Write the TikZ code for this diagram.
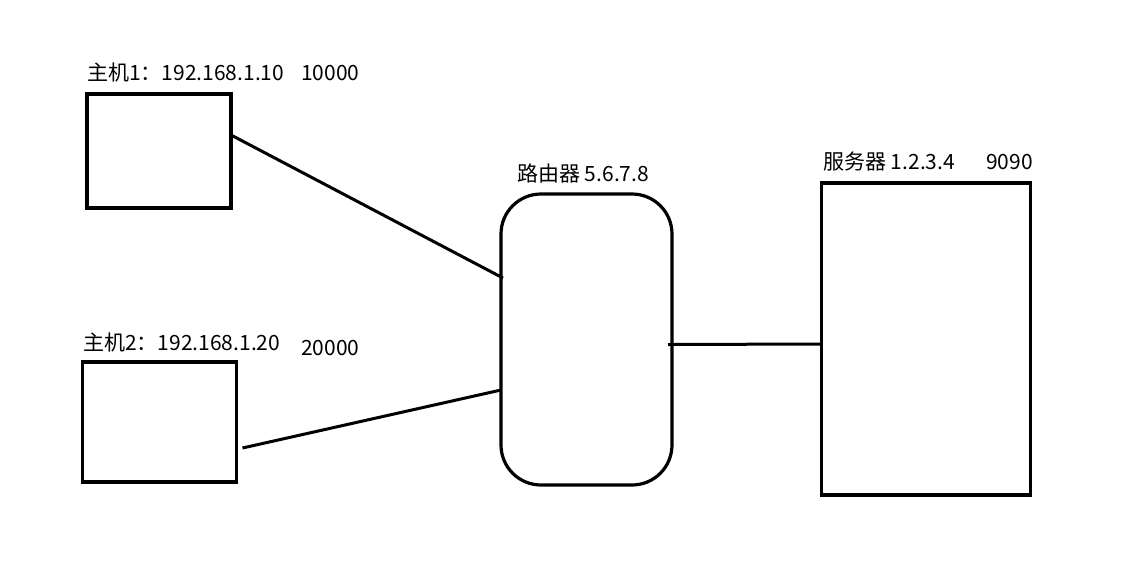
\documentclass[tikz,border=0pt]{standalone}
\usepackage{fontspec}
\setmainfont{Noto Sans CJK SC}
\begin{document}
\begin{tikzpicture}[x=1pt,y=-1pt,
  box/.style={draw, line width=3.2pt, inner sep=0pt, outer sep=0pt},
  wire/.style={line width=3pt},
  lbl/.style={anchor=base west, inner sep=0pt, font=\fontsize{21}{23}\selectfont}]
\useasboundingbox (0,0) rectangle (1132,565);
\node[box, minimum width=144pt, minimum height=114pt] (h1) at (159,151) {};
\node[box, minimum width=154pt, minimum height=120pt] (h2) at (159.5,422) {};
\node[box, minimum width=171pt, minimum height=291pt, rounded corners=40pt] (r) at (586.5,339.5) {};
\node[box, minimum width=209pt, minimum height=312pt] (s) at (926,339) {};
\node[lbl] (t1) at (87,80) {主机1：192.168.1.10};
\node[lbl] (p1) at (301,80) {10000};
\node[lbl] (t2) at (83,350) {主机2：192.168.1.20};
\node[lbl] (p2) at (301,355) {20000};
\node[lbl] (tr) at (517,181) {路由器 5.6.7.8};
\node[lbl] (ts) at (823,169) {服务器 1.2.3.4};
\node[lbl] (ps) at (986,169) {9090};
\draw[wire] ([yshift=16pt]h1.east) -- ([xshift=2pt,yshift=61.5pt]r.west);
\draw[wire] ([xshift=6pt,yshift=-26pt]h2.east) -- ([yshift=-50.5pt]r.west);
\draw[wire] ([xshift=-4pt,yshift=-5pt]r.east) -- ([yshift=-5pt]s.west);
\end{tikzpicture}
\end{document}
